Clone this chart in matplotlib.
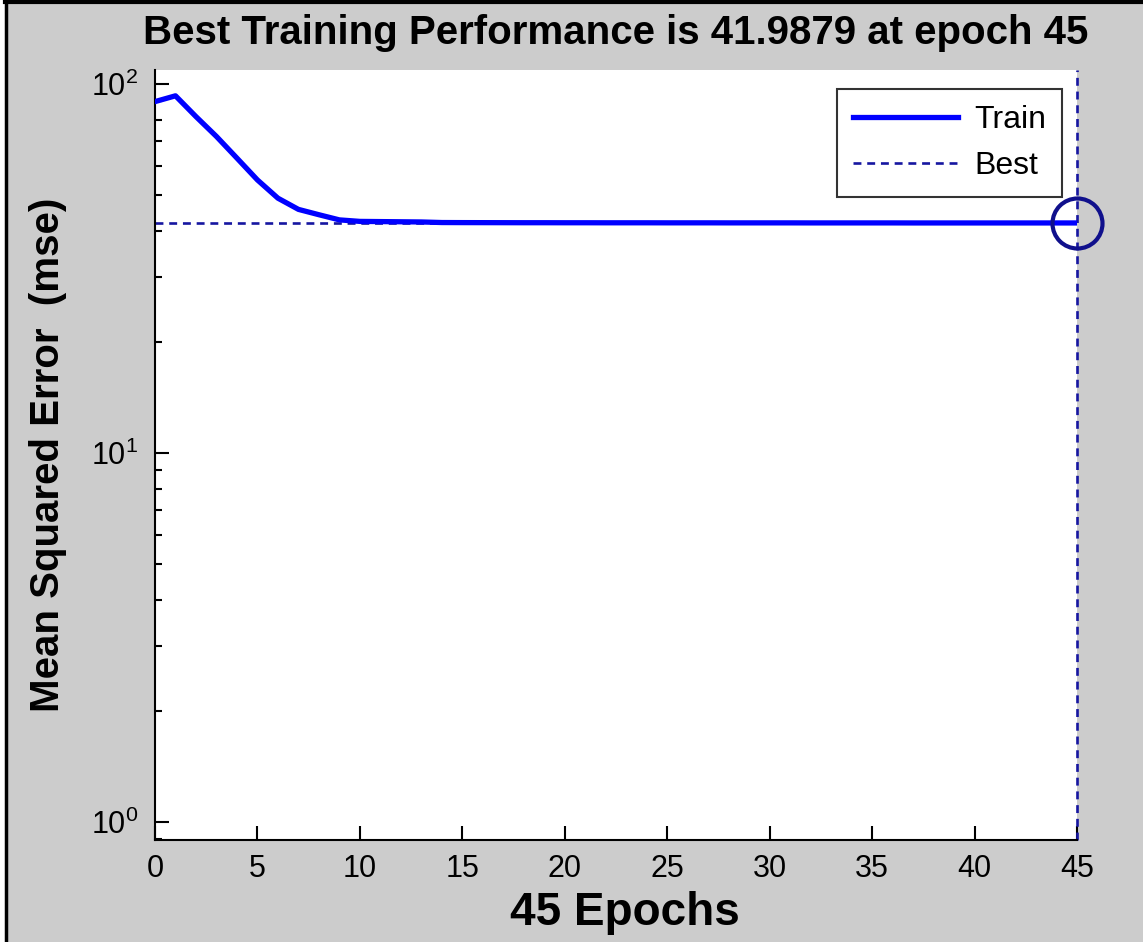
import numpy as np
import matplotlib
matplotlib.use("Agg")
import matplotlib.pyplot as plt
from matplotlib.patches import Rectangle
from matplotlib.ticker import LogLocator, LogFormatterSciNotation, NullFormatter

plt.rcParams['font.family'] = ['Liberation Sans', 'DejaVu Sans']
plt.rcParams['mathtext.fontset'] = 'custom'
plt.rcParams['mathtext.rm'] = 'Liberation Sans'

# training record
epochs = list(range(46))
train_mse = [89.5, 92.8, 81.5, 72.0, 62.9, 54.9, 49.0, 45.7, 44.2, 42.8,
             42.4, 42.35, 42.3, 42.25, 42.1, 42.08, 42.07, 42.06, 42.05, 42.05,
             42.04, 42.04, 42.03, 42.03, 42.03, 42.02, 42.02, 42.02, 42.01, 42.01,
             42.01, 42.01, 42.0, 42.0, 42.0, 42.0, 42.0, 41.99, 41.99, 41.99,
             41.99, 41.99, 41.99, 41.99, 41.99, 41.9879]
best_epoch = 45
best_perf = 41.9879
x_ticks = [0, 5, 10, 15, 20, 25, 30, 35, 40, 45]

gray = '#cccccc'
fig = plt.figure(figsize=(11.43, 9.42), dpi=100, facecolor=gray)
ax = fig.add_axes([155/1143, 1 - 840/942, (1077-155)/1143, (840-70)/942])

# Train curve
ax.semilogy(epochs, train_mse, color='#0000ff', lw=3.8, label='Train', zorder=3)
# best lines
ax.axvline(best_epoch, color='#1616a0', lw=1.9, ls=(0, (3, 2.2)), zorder=2, clip_on=False)
ax.axhline(best_perf, color='#1616a0', lw=1.9, ls=(0, (3, 2.2)), label='Best', zorder=2)
ax.plot(best_epoch, best_perf, 'o', ms=36, mfc='none', mec='#10108c', mew=3,
        clip_on=False, zorder=4)

ax.set_xlim(0, 45)
ax.set_ylim(0.895, 109)
ax.set_xticks(x_ticks)
ax.yaxis.set_major_locator(LogLocator(base=10))
ax.yaxis.set_major_formatter(LogFormatterSciNotation())
ax.yaxis.set_minor_locator(LogLocator(base=10, subs=np.arange(2, 10)))
ax.yaxis.set_minor_formatter(NullFormatter())

for s in ['top', 'right']:
    ax.spines[s].set_visible(False)
for s in ['left', 'bottom']:
    ax.spines[s].set_linewidth(1.5)
ax.tick_params(which='major', direction='in', length=10, width=1.5, labelsize=22, pad=10)
ax.tick_params(axis='y', which='major', pad=12)
ax.tick_params(which='minor', direction='in', length=5, width=1.5)

ax.set_title('Best Training Performance is 41.9879 at epoch 45', fontsize=29,
             fontweight='bold', pad=19)
ax.set_xlabel('45 Epochs', fontsize=33, fontweight='bold')
ax.xaxis.set_label_coords(0.51, -0.066)
ax.set_ylabel('Mean Squared Error  (mse)', fontsize=29, fontweight='bold')
ax.yaxis.set_label_coords(-0.095, 0.5)

leg = ax.legend(loc='upper right', bbox_to_anchor=(0.9837, 0.9753), borderaxespad=0,
                fontsize=23, frameon=True, fancybox=False, handlelength=3.3,
                borderpad=0.5, labelspacing=0.5, handletextpad=0.5)
leg.get_frame().set_edgecolor('black')
leg.get_frame().set_linewidth(1.5)

# outer frame of the window
fig.patches.append(Rectangle((0, 0), 5/1143, 1, transform=fig.transFigure,
                             facecolor='white', edgecolor='none', zorder=0))
fig.add_artist(plt.Line2D([6/1143, 6/1143], [0, 1], color='black', lw=2.5,
                          transform=fig.transFigure))
fig.add_artist(plt.Line2D([5/1143, 1], [1 - 2/942, 1 - 2/942], color='black', lw=3,
                          transform=fig.transFigure))

fig.savefig('out.png', dpi=100, facecolor=gray)
